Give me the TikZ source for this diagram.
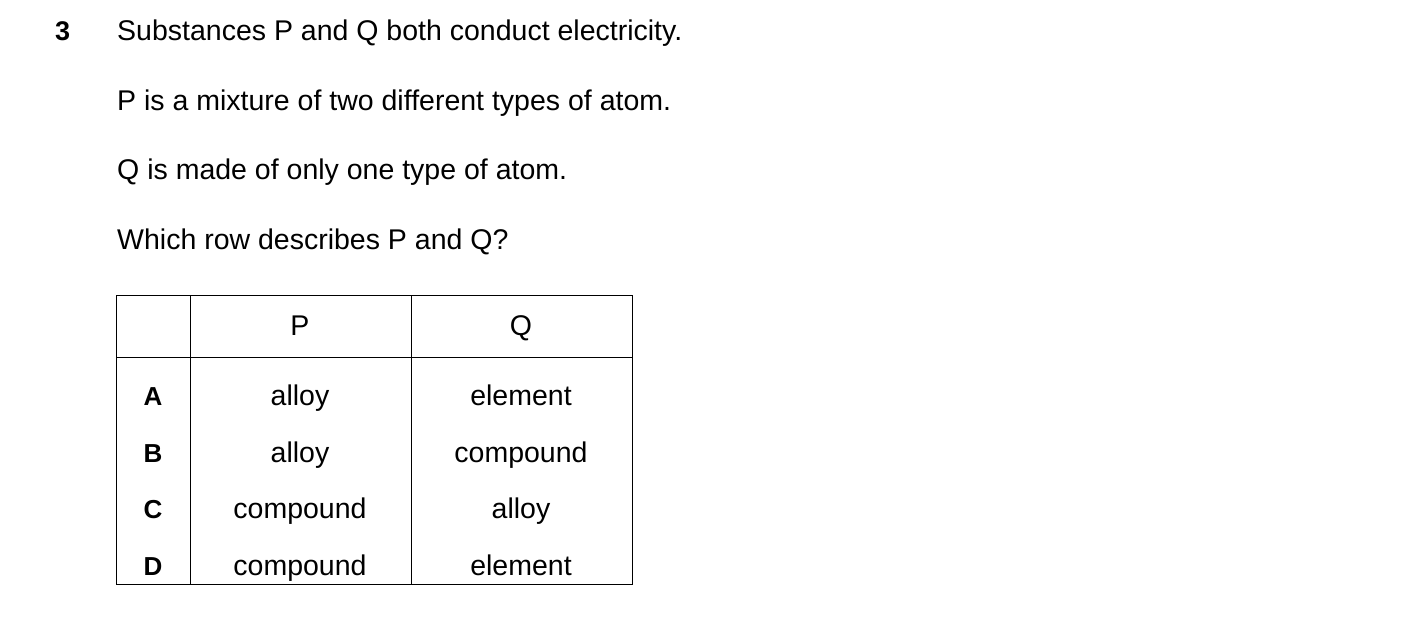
\documentclass[tikz,border=0pt]{standalone}
\usepackage{fontspec}
\setmainfont{Liberation Sans}
\begin{document}
\begin{tikzpicture}[x=1pt,y=-1pt,
  txt/.style={anchor=base west,inner sep=0pt,font=\fontsize{28.5}{34}\selectfont},
  cell/.style={anchor=base,inner sep=0pt,font=\fontsize{28.5}{34}\selectfont},
  lbl/.style={anchor=base,inner sep=0pt,font=\fontsize{26}{34}\selectfont\bfseries}]
\useasboundingbox (0,0) rectangle (1403,644);
\node[txt,font=\fontsize{27}{34}\selectfont\bfseries] (num) at (55,41) {3};
\node[txt] (l1) at (117,41) {Substances P and Q both conduct electricity.};
\node[txt] (l2) at (117,111) {P is a mixture of two different types of atom.};
\node[txt] (l3) at (117,180) {Q is made of only one type of atom.};
\node[txt] (l4) at (117,250) {Which row describes P and Q?};
\draw[line width=1pt] (116,296) rectangle (632,584);
\draw[line width=1pt] (190,296) -- (190,584) (411,296) -- (411,584) (116,357) -- (632,357);
\node[cell] (hp) at (300,336) {P};
\node[cell] (hq) at (521,336) {Q};
\foreach \y/\l/\p/\q in {405/A/alloy/element,462/B/alloy/compound,518/C/compound/alloy,575/D/compound/element}{
  \node[lbl] (r\l) at (153,\y) {\l};
  \node[cell] (p\l) at (300,\y) {\p};
  \node[cell] (q\l) at (521,\y) {\q};
}
\end{tikzpicture}
\end{document}
